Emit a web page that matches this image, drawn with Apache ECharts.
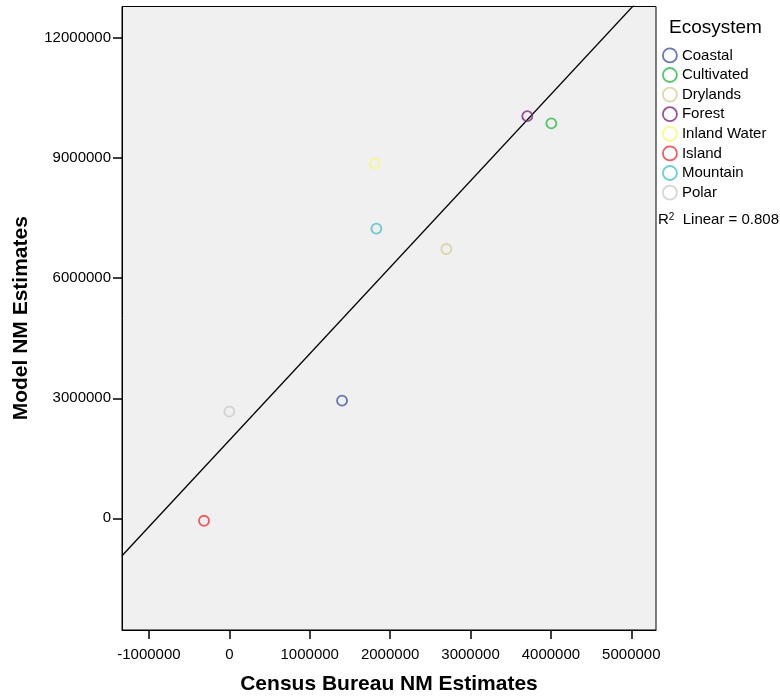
<!DOCTYPE html>
<html>
<head>
<meta charset="utf-8">
<script src="https://cdn.jsdelivr.net/npm/echarts@6/dist/echarts.min.js"></script>
<style>
  html, body { margin: 0; padding: 0; background: #fff; }
  #chart { width: 780px; height: 700px; }
</style>
</head>
<body>
<div id="chart"></div>
<script>
// Net migration estimates by ecosystem type
const ecosystems = ['Coastal', 'Cultivated', 'Drylands', 'Forest', 'Inland Water', 'Island', 'Mountain', 'Polar'];
const censusNM = [1402000, 4005000, 2699000, 3706000, 1808000, -315000, 1829000, 0];
const modelNM  = [2940000, 9870000, 6730000, 10050000, 8870000, -60000, 7240000, 2670000];
const ecoColors = ['#3E58AC', '#2EB848', '#D3CE97', '#7C287D', '#FBF873', '#EF3338', '#48C2C5', '#CCCCCC'];

const xTicks = [-1000000, 0, 1000000, 2000000, 3000000, 4000000, 5000000];
const yTicks = [0, 3000000, 6000000, 9000000, 12000000];
const xRange = [-1335000, 5307000];
const yRange = [-2790000, 12790000];

// Ordinary least squares fit of model vs census estimates
const n = censusNM.length;
const mx = censusNM.reduce((a, b) => a + b, 0) / n;
const my = modelNM.reduce((a, b) => a + b, 0) / n;
let sxy = 0, sxx = 0, syy = 0;
for (let i = 0; i < n; i++) {
  const dx = censusNM[i] - mx, dy = modelNM[i] - my;
  sxy += dx * dy; sxx += dx * dx; syy += dy * dy;
}
const slope = sxy / sxx;
const intercept = my - slope * mx;
const r2 = (sxy * sxy) / (sxx * syy);

const FONT = '"Liberation Sans", Arial, sans-serif';

const scatterSeries = ecosystems.map((name, i) => ({
  name: name,
  type: 'scatter',
  symbol: 'circle',
  symbolSize: 10,
  itemStyle: { color: 'rgba(0,0,0,0)', borderColor: ecoColors[i], borderWidth: 1.8 },
  emphasis: { disabled: true },
  data: [[censusNM[i], modelNM[i]]],
  z: 3
}));

const fitSeries = {
  name: 'Linear',
  type: 'line',
  symbol: 'none',
  clip: true,
  lineStyle: { color: '#000', width: 1.3 },
  data: [
    [xRange[0], intercept + slope * xRange[0]],
    [xRange[1], intercept + slope * xRange[1]]
  ],
  z: 2
};

const chart = echarts.init(document.getElementById('chart'), null, { renderer: 'canvas' });
chart.setOption({
  animation: false,
  textStyle: { fontFamily: FONT },
  grid: {
    left: 122, right: 124, top: 6.5, bottom: 68,
    show: true, backgroundColor: '#F0F0F0', borderColor: '#000', borderWidth: 1
  },
  xAxis: {
    type: 'value',
    min: xRange[0], max: xRange[1],
    name: 'Census Bureau NM Estimates',
    nameLocation: 'middle',
    nameGap: 44,
    nameTextStyle: { fontFamily: FONT, fontWeight: 'bold', fontSize: 21, color: '#000' },
    axisLine: { show: true, onZero: false, lineStyle: { color: '#000', width: 1 } },
    axisTick: { show: true, customValues: xTicks, length: 9, lineStyle: { color: '#000', width: 1.5 } },
    axisLabel: { customValues: xTicks, margin: 17, fontSize: 15, color: '#000', fontFamily: FONT, formatter: v => String(v) },
    splitLine: { show: false }
  },
  yAxis: {
    type: 'value',
    min: yRange[0], max: yRange[1],
    name: 'Model NM Estimates',
    nameLocation: 'middle',
    nameGap: 90,
    nameTextStyle: { fontFamily: FONT, fontWeight: 'bold', fontSize: 21, color: '#000' },
    axisLine: { show: true, onZero: false, lineStyle: { color: '#000', width: 1 } },
    axisTick: { show: true, customValues: yTicks, length: 9, lineStyle: { color: '#000', width: 1.5 } },
    axisLabel: { customValues: yTicks, margin: 11, fontSize: 15, color: '#000', fontFamily: FONT, formatter: v => String(v) },
    splitLine: { show: false }
  },
  legend: {
    data: ecosystems,
    orient: 'vertical',
    left: 662, top: 47.5,
    padding: 0,
    itemWidth: 14, itemHeight: 14,
    itemGap: 3.8,
    itemTextGap: 6,
    selectedMode: false,
    itemStyle: { borderWidth: 1.8 },
    textStyle: { fontFamily: FONT, fontSize: 15, color: '#000', lineHeight: 14 }
  },
  graphic: [
    {
      type: 'text', left: 669, top: 18,
      style: { text: 'Ecosystem', font: '19px ' + FONT, fill: '#000' }
    },
    {
      type: 'text', left: 658, top: 212,
      style: {
        text: '{b|R}{s|2}{b|  Linear = ' + r2.toFixed(3) + '}',
        rich: {
          b: { fontFamily: FONT, fontSize: 15, fill: '#000', color: '#000' },
          s: { fontFamily: FONT, fontSize: 10, fill: '#000', color: '#000', verticalAlign: 'top', padding: [0, 0, 6, 0] }
        }
      }
    }
  ],
  series: scatterSeries.concat([fitSeries])
});
</script>
</body>
</html>
